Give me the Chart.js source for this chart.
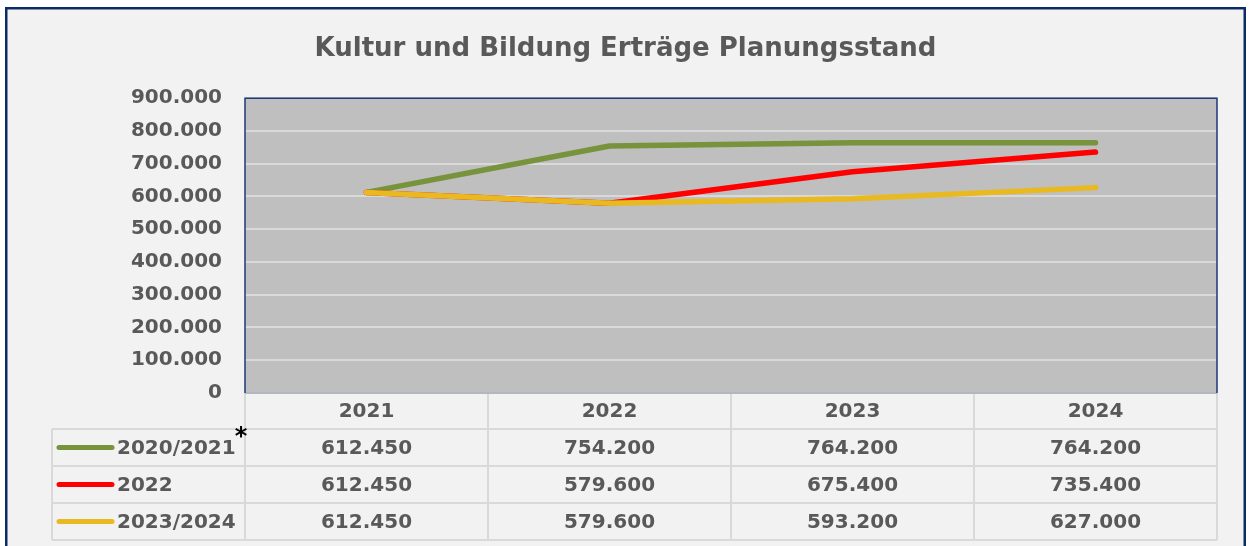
<!DOCTYPE html>
<html>
<head>
<meta charset="utf-8">
<script src="https://cdn.jsdelivr.net/npm/chart.js@4/dist/chart.umd.min.js"></script>
<style>
  html, body { margin: 0; padding: 0; background: #ffffff; }
  canvas { display: block; }
</style>
</head>
<body>
<canvas id="c" width="1251" height="546"></canvas>
<script>
// ---- data ----
const categories = ['2021', '2022', '2023', '2024'];
const seriesLabels = ['2020/2021', '2022', '2023/2024'];
const values2020_2021 = [612450, 754200, 764200, 764200];
const values2022 = [612450, 579600, 675400, 735400];
const values2023_2024 = [612450, 579600, 593200, 627000];
const seriesColors = ['#77933c', '#ff0000', '#e8b921'];
const yMin = 0, yMax = 900000, yStep = 100000;
const titleText = 'Kultur und Bildung Erträge Planungsstand';

const FONT = 'DejaVu Sans';
const TEXT = '#595959';

function fmt(v) {
  return String(v).replace(/\B(?=(\d{3})+(?!\d))/g, '.');
}

const seriesValues = [values2020_2021, values2022, values2023_2024];

const tablePlugin = {
  id: 'excelTable',
  beforeDraw(chart) {
    const ctx = chart.ctx;
    const ca = chart.chartArea;
    ctx.save();
    ctx.fillStyle = '#ffffff';
    ctx.fillRect(0, 0, chart.width, chart.height);
    ctx.fillStyle = '#f2f2f2';
    ctx.fillRect(6, 8, 1239, 600);
    ctx.fillStyle = '#bfbfbf';
    ctx.fillRect(ca.left, ca.top, ca.right - ca.left, ca.bottom - ca.top);
    ctx.restore();
  },
  afterDraw(chart) {
    const ctx = chart.ctx;
    const ca = chart.chartArea;
    const xs = chart.scales.x;
    const n = categories.length;
    ctx.save();

    // column boundaries from the category scale
    const centers = categories.map((_, i) => xs.getPixelForValue(i));
    const bounds = [ca.left];
    for (let i = 0; i < n - 1; i++) bounds.push((centers[i] + centers[i + 1]) / 2);
    bounds.push(ca.right);

    const headerTop = ca.bottom;
    const headerBottom = headerTop + 36;
    const rowH = 37;
    const rowsTop = headerBottom;
    const tableBottom = rowsTop + rowH * seriesValues.length;
    const legendLeft = 52;

    // grid of the data table
    ctx.strokeStyle = '#d9d9d9';
    ctx.lineWidth = 2;
    ctx.beginPath();
    bounds.forEach((bx) => {
      ctx.moveTo(bx, headerTop);
      ctx.lineTo(bx, tableBottom);
    });
    ctx.moveTo(legendLeft, rowsTop);
    ctx.lineTo(legendLeft, tableBottom);
    for (let r = 0; r <= seriesValues.length; r++) {
      const y = rowsTop + r * rowH;
      ctx.moveTo(legendLeft, y);
      ctx.lineTo(ca.right, y);
    }
    ctx.stroke();

    // values + legend keys
    ctx.font = 'bold 20px "' + FONT + '"';
    ctx.textBaseline = 'middle';
    seriesValues.forEach((vals, r) => {
      const cy = rowsTop + r * rowH + rowH / 2;
      ctx.fillStyle = TEXT;
      ctx.textAlign = 'center';
      vals.forEach((v, i) => ctx.fillText(fmt(v), centers[i], cy + 1));
      // legend key
      ctx.strokeStyle = seriesColors[r];
      ctx.lineWidth = 5;
      ctx.lineCap = 'round';
      ctx.beginPath();
      ctx.moveTo(59, cy);
      ctx.lineTo(112, cy);
      ctx.stroke();
      ctx.textAlign = 'left';
      ctx.fillStyle = TEXT;
      ctx.fillText(seriesLabels[r], 117, cy + 1);
    });

    // asterisk
    ctx.fillStyle = '#000000';
    ctx.font = 'bold 24px "' + FONT + '"';
    ctx.textAlign = 'center';
    ctx.fillText('*', 241, 438);

    // plot area border
    ctx.lineCap = 'butt';
    ctx.strokeStyle = '#a3a8bd';
    ctx.lineWidth = 1.5;
    ctx.beginPath();
    ctx.moveTo(ca.left, ca.bottom);
    ctx.lineTo(ca.right, ca.bottom);
    ctx.stroke();
    ctx.strokeStyle = '#1f3a78';
    ctx.lineWidth = 1.5;
    ctx.beginPath();
    ctx.moveTo(ca.left, ca.bottom);
    ctx.lineTo(ca.left, ca.top);
    ctx.lineTo(ca.right, ca.top);
    ctx.lineTo(ca.right, ca.bottom);
    ctx.stroke();

    // outer border
    ctx.strokeStyle = '#0c2a66';
    ctx.lineWidth = 2.5;
    ctx.strokeRect(6.25, 8.25, 1238.5, 600);
    ctx.restore();
  }
};

const datasets = seriesValues.map((vals, i) => ({
  label: seriesLabels[i],
  data: vals,
  borderColor: seriesColors[i],
  backgroundColor: seriesColors[i],
  borderWidth: 5.5,
  borderCapStyle: 'round',
  borderJoinStyle: 'round',
  pointRadius: 0,
  tension: 0,
  fill: false,
  order: seriesValues.length - 1 - i
}));

new Chart(document.getElementById('c'), {
  type: 'line',
  data: { labels: categories, datasets },
  plugins: [tablePlugin],
  options: {
    responsive: false,
    animation: false,
    events: [],
    layout: { padding: { top: 18, left: 34, right: 34, bottom: 0 } },
    plugins: {
      legend: { display: false },
      tooltip: { enabled: false },
      title: {
        display: true,
        text: titleText,
        color: TEXT,
        font: { family: FONT, size: 26, weight: 'bold' },
        padding: { top: 16, bottom: 33 }
      }
    },
    scales: {
      x: {
        offset: true,
        grid: { display: false, drawTicks: false },
        border: { display: false },
        ticks: {
          color: TEXT,
          padding: 7,
          font: { family: FONT, size: 20, weight: 'bold' },
          maxRotation: 0
        },
        afterFit(scale) { scale.height = 153; }
      },
      y: {
        min: yMin,
        max: yMax,
        grid: { color: '#d9d9d9', lineWidth: 2, drawTicks: false },
        border: { display: false },
        ticks: {
          stepSize: yStep,
          color: TEXT,
          padding: 23,
          font: { family: FONT, size: 20, weight: 'bold' },
          callback: v => fmt(v)
        },
        afterFit(scale) { scale.width = 211; }
      }
    }
  }
});
</script>
</body>
</html>
